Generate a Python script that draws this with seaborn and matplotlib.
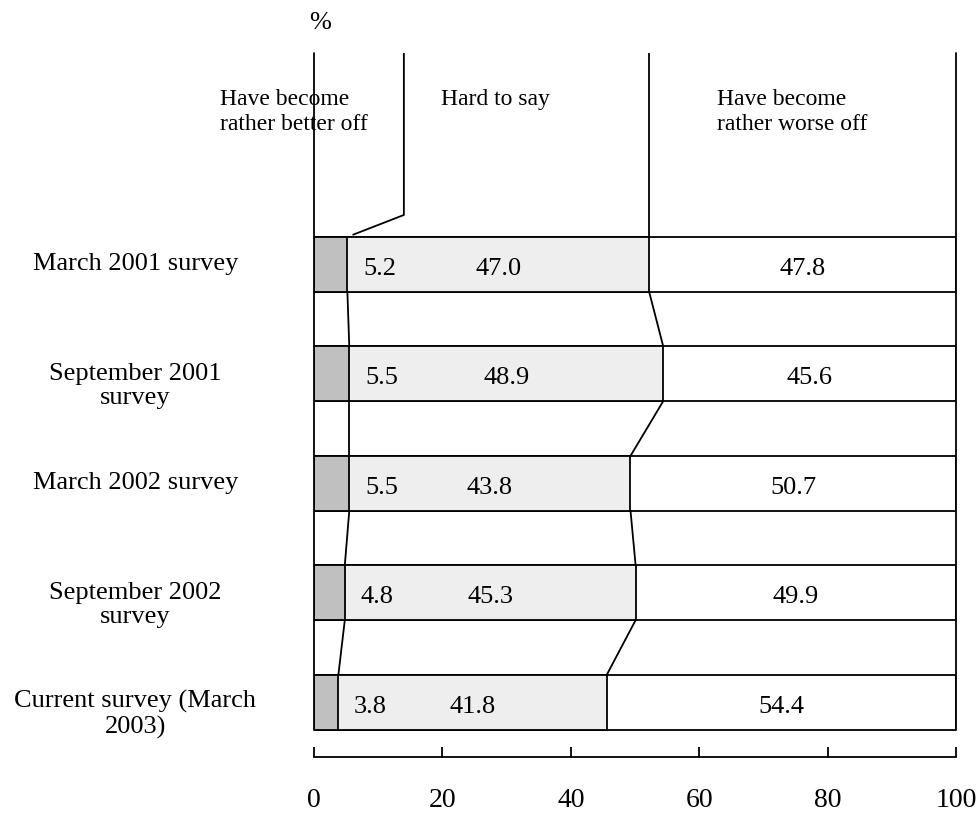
import numpy as np
import pandas as pd
import matplotlib
matplotlib.use("Agg")
import matplotlib.pyplot as plt
import seaborn as sns

# ============================================
# DATA
# ============================================
surveys = ["March 2001 survey", "September 2001\nsurvey", "March 2002 survey",
           "September 2002\nsurvey", "Current survey (March\n2003)"]
better = [5.2, 5.5, 5.5, 4.8, 3.8]
hard = [47.0, 48.9, 43.8, 45.3, 41.8]
worse = [47.8, 45.6, 50.7, 49.9, 54.4]
header_labels = ["Have become\nrather better off", "Hard to say", "Have become\nrather worse off"]
x_ticks = [0, 20, 40, 60, 80, 100]

df = pd.DataFrame({"survey": surveys, "better": better, "hard": hard, "worse": worse})
df["c1"] = df["better"]
df["c2"] = df["better"] + df["hard"]
df["c3"] = df["c2"] + df["worse"]

# ============================================
# PLOT
# ============================================
sns.set_style("white")
plt.rcParams["font.family"] = ["Liberation Serif", "DejaVu Serif"]
plt.rcParams["text.color"] = "black"
plt.rcParams["xtick.color"] = "black"

fig = plt.figure(figsize=(9.76, 8.14), dpi=100)
ax = fig.add_axes([0.3217, 0.070, 0.6578, 0.865])

bar_kw = dict(orient="h", width=0.5, edgecolor="black", linewidth=1.3, ax=ax)
sns.barplot(data=df, x="c3", y="survey", color="white", saturation=1, **bar_kw)
sns.barplot(data=df, x="c2", y="survey", color="#eeeeee", saturation=1, **bar_kw)
sns.barplot(data=df, x="c1", y="survey", color="#c0c0c0", saturation=1, **bar_kw)

top = -1.93
n = len(surveys)
ax.set_xlim(0, 100)
ax.set_ylim(4.5, top)

# connector lines between bars
lw = 1.3
for i in range(n - 1):
    for col in ["c1", "c2"]:
        ax.plot([df[col][i], df[col][i + 1]], [i + 0.25, i + 1 - 0.25], color="black", lw=lw)

# frame lines and header lines
ax.plot([0, 0], [top, n - 1 + 0.25], color="black", lw=lw, clip_on=False)
ax.plot([100, 100], [top, n - 1 + 0.25], color="black", lw=lw, clip_on=False)
ax.plot([df["c2"][0]] * 2, [top, -0.25], color="black", lw=lw)
ax.plot([14, 14, 6.1], [top, -0.45, -0.27], color="black", lw=lw)

hfs = 17
ax.text(-14.6, -1.39, header_labels[0], fontsize=hfs, ha="left", va="center", linespacing=1.3)
ax.text(19.8, -1.50, header_labels[1], fontsize=hfs, ha="left", va="center")
ax.text(62.8, -1.39, header_labels[2], fontsize=hfs, ha="left", va="center", linespacing=1.3)
ax.text(0.9, -2.20, "%", fontsize=19, ha="center", va="center", clip_on=False)

# category labels
for i, s in enumerate(surveys):
    dy = 0.11 if "\n" in s else 0.0
    ax.text(-27.8, i + dy, s, fontsize=19, ha="center", va="center",
            multialignment="center", linespacing=1.15, clip_on=False)

# value labels
vfs = 19
for i in range(n):
    ax.text(df["c1"][i] + 5.0, i + 0.04, f"{better[i]:.1f}", fontsize=vfs, ha="center", va="center")
    ax.text(df["c1"][i] + hard[i] / 2, i + 0.04, f"{hard[i]:.1f}", fontsize=vfs, ha="center", va="center")
    ax.text(df["c2"][i] + worse[i] / 2, i + 0.04, f"{worse[i]:.1f}", fontsize=vfs, ha="center", va="center")

# axes styling
for s in ["top", "right", "left"]:
    ax.spines[s].set_visible(False)
ax.spines["bottom"].set_linewidth(lw)
ax.spines["bottom"].set_color("black")
ax.set_xticks(x_ticks)
ax.set_xticklabels([str(t) for t in x_ticks], fontsize=20)
ax.tick_params(axis="x", bottom=True, direction="in", length=7, width=lw, color="black", pad=22)
ax.set_yticks([])
ax.set_xlabel("")
ax.set_ylabel("")

plt.savefig("out.png", dpi=100)
